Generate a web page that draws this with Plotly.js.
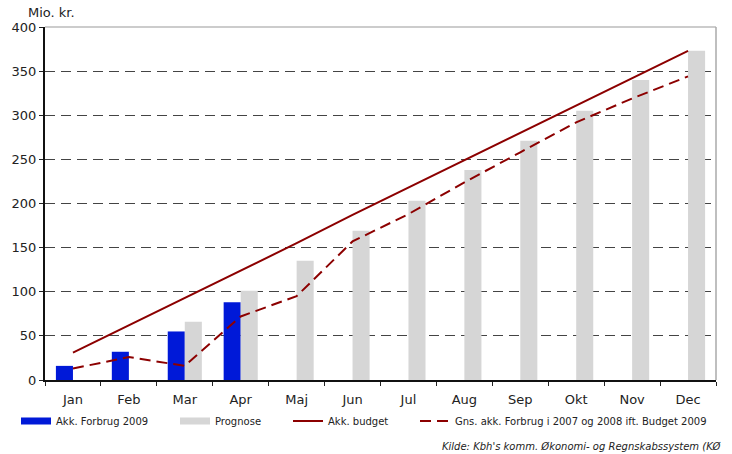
<!DOCTYPE html>
<html>
<head>
<meta charset="utf-8">
<script src="https://cdn.plot.ly/plotly-3.0.1.min.js"></script>
<style>html,body{margin:0;padding:0;background:#fff;}#chart{width:732px;height:454px;}</style>
</head>
<body>
<div id="chart"></div>
<script>
var months = ["Jan","Feb","Mar","Apr","Maj","Jun","Jul","Aug","Sep","Okt","Nov","Dec"];
var forbrug2009 = [16, 32, 55, 88, null, null, null, null, null, null, null, null];
var prognose = [null, null, 66, 101, 135, 169, 203, 238, 271, 305, 340, 373];
var budget = [31, 62, 93, 124, 155, 187, 218, 249, 280, 311, 342, 373];
var gnsForbrug = [13, 26, 16, 72, 95, 157, 188, 224, 258, 292, 319, 344];

var darkRed = "#8c0000";
var blue = "#0019d8";
var grey = "#d6d6d6";

var traces = [
  {type:"bar", x:months, y:forbrug2009, name:"Akk. Forbrug 2009", marker:{color:blue}, showlegend:false, hoverinfo:"y"},
  {type:"bar", x:months, y:prognose, name:"Prognose", marker:{color:grey}, showlegend:false, hoverinfo:"y"},
  {type:"scatter", mode:"lines", x:months, y:budget, name:"Akk. budget", line:{color:darkRed, width:2}, legend:"legend3"},
  {type:"scatter", mode:"lines", x:months, y:gnsForbrug, name:"Gns. akk. Forbrug i 2007 og 2008 ift. Budget 2009", line:{color:darkRed, width:2, dash:"11px,6px"}, legend:"legend4"},
  {type:"scatter", mode:"lines", x:[null], y:[null], name:"Akk. Forbrug 2009", line:{color:blue, width:7}, legend:"legend"},
  {type:"scatter", mode:"lines", x:[null], y:[null], name:"Prognose", line:{color:grey, width:7}, legend:"legend2"}
];

var legFont = {family:"DejaVu Sans, Verdana, sans-serif", size:10, color:"#222"};
function leg(xpx){
  return {orientation:"h", x:(xpx-45)/671, xanchor:"left", y:(380-421)/353, yanchor:"middle",
          font:legFont, bgcolor:"rgba(0,0,0,0)", borderwidth:0, itemwidth:30, tracegroupgap:0};
}

var layout = {
  width:732, height:454,
  margin:{l:45, r:16, t:27, b:74, pad:0},
  paper_bgcolor:"#fff", plot_bgcolor:"#fff",
  font:{family:"DejaVu Sans, Verdana, sans-serif", size:13, color:"#222"},
  barmode:"group", bargap:0.39, bargroupgap:0,
  xaxis:{type:"category", tickson:"boundaries", ticks:"outside", ticklen:4, tickcolor:"#222",
         showline:true, linecolor:"#111", linewidth:2, showgrid:false, zeroline:false,
         ticklabelstandoff:6, tickfont:{size:13}, fixedrange:true},
  yaxis:{range:[0,400], dtick:50, ticks:"outside", ticklen:4, tickcolor:"#222",
         showline:true, linecolor:"#111", linewidth:2, showgrid:true, gridcolor:"#444",
         griddash:"10px,6px", gridwidth:1, zeroline:false, tickfont:{size:13}, fixedrange:true},
  showlegend:true,
  legend:leg(16), legend2:leg(175), legend3:leg(288), legend4:leg(415),
  shapes:[
    {type:"line", xref:"paper", yref:"paper", x0:1, x1:1, y0:0, y1:1, line:{color:"#aaa", width:1.5}},
    {type:"line", xref:"paper", yref:"paper", x0:0, x1:1, y0:1, y1:1, line:{color:"#bbb", width:1.5}, layer:"below"}
  ],
  annotations:[
    {text:"Mio. kr.", xref:"paper", yref:"paper", x:(77-45)/671, y:(380-13)/353, xanchor:"right", yanchor:"middle", showarrow:false, font:{size:13}},
    {text:"<i>Kilde: Kbh's komm. Økonomi- og Regnskabssystem (KØ</i>", xref:"paper", yref:"paper", x:(440-45)/671, y:(380-447)/353, xanchor:"left", yanchor:"middle", showarrow:false, font:{size:10, color:"#222"}}
  ]
};

Plotly.newPlot("chart", traces, layout, {displayModeBar:false, staticPlot:true});
</script>
</body>
</html>
